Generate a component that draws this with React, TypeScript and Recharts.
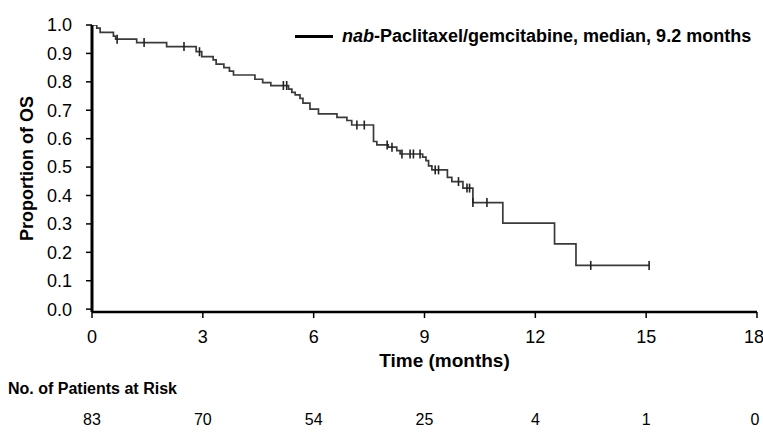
import React from "react";
import {
  ComposedChart,
  Line,
  Scatter,
  XAxis,
  YAxis,
  Legend,
} from "recharts";

const FONT = '"Liberation Sans", Arial, Helvetica, sans-serif';

// Kaplan-Meier steps (months, proportion surviving)
const eventTimes = [
  0, 0.13, 0.22, 0.58, 0.64, 1.21, 2.02, 2.82, 2.97, 3.28, 3.36, 3.57, 3.72, 3.83,
  4.41, 4.62, 4.84, 5.32, 5.41, 5.5, 5.63, 5.71, 5.9, 6.13, 6.63, 6.9, 7.03, 7.62,
  7.71, 8.02, 8.25, 8.34, 8.95, 9.04, 9.11, 9.2, 9.62, 9.74, 10.04, 10.31, 11.12,
  12.52, 13.1,
];
const survival = [
  1, 0.989, 0.974, 0.961, 0.95, 0.938, 0.924, 0.906, 0.889, 0.877, 0.862, 0.85, 0.838,
  0.824, 0.809, 0.797, 0.787, 0.774, 0.763, 0.754, 0.742, 0.725, 0.704, 0.687, 0.675,
  0.664, 0.648, 0.59, 0.578, 0.57, 0.558, 0.546, 0.535, 0.523, 0.504, 0.49, 0.464,
  0.449, 0.426, 0.375, 0.303, 0.23, 0.154,
];
// censored patients (tick marks on the curve)
const censorTimes = [
  0.68, 1.41, 2.49, 2.91, 5.18, 5.27, 7.17, 7.37, 7.99, 8.12, 8.39, 8.61, 8.7, 8.88,
  9.29, 9.38, 9.92, 10.15, 10.22, 10.31, 10.69, 13.5, 15.08,
];

const xTicks = [0, 3, 6, 9, 12, 15, 18];
const yTicks = [0, 0.1, 0.2, 0.3, 0.4, 0.5, 0.6, 0.7, 0.8, 0.9, 1.0];
const riskCounts = [83, 70, 54, 25, 4, 1, 0];

const SERIES_NAME = "nab-Paclitaxel/gemcitabine, median, 9.2 months";

// value of the step curve at time t (last event at or before t)
const survAt = (t: number) => {
  let s = survival[0];
  eventTimes.forEach((e, i) => {
    if (e <= t + 1e-9) s = survival[i];
  });
  return s;
};

const lastTime = censorTimes[censorTimes.length - 1];
const curve = [
  ...eventTimes.map((t, i) => ({ t, s: survival[i] })),
  { t: lastTime, s: survAt(lastTime) },
];
const censors = censorTimes.map((t) => ({ t, s: survAt(t) }));

const CensorMark = (props: any) => {
  const { cx, cy } = props;
  if (cx == null || cy == null) return null;
  return <line x1={cx} x2={cx} y1={cy - 4.5} y2={cy + 4.5} stroke="#222" strokeWidth={1.6} />;
};

const RiskTick = (props: any) => {
  const { x, y, payload } = props;
  const idx = xTicks.indexOf(payload.value);
  return (
    <text
      x={x}
      y={y + 47}
      textAnchor="middle"
      dominantBaseline="central"
      fontSize={16}
      fontFamily={FONT}
      fill="#000"
    >
      {riskCounts[idx]}
    </text>
  );
};

const LegendContent = (props: any) => {
  const entry = props.payload?.find((p: any) => p.value === SERIES_NAME);
  const name: string = entry?.value ?? SERIES_NAME;
  const cut = name.indexOf("-");
  return (
    <div
      style={{
        display: "flex",
        alignItems: "center",
        fontFamily: FONT,
        fontWeight: "bold",
        fontSize: 18,
        color: "#000",
        whiteSpace: "nowrap",
      }}
    >
      <span style={{ display: "inline-block", width: 38, height: 3, background: "#000", marginRight: 9 }} />
      <span>
        <i>{name.slice(0, cut)}</i>
        {name.slice(cut)}
      </span>
    </div>
  );
};

export default function App() {
  return (
    <div style={{ position: "absolute", left: 0, top: 0, width: 763, height: 434, background: "#fff" }}>
      <ComposedChart width={763} height={434} margin={{ top: 25, right: 6, bottom: 0, left: 0 }}>
        <YAxis
          type="number"
          domain={[-0.01, 1]}
          allowDataOverflow
          ticks={yTicks}
          tickFormatter={(v: number) => v.toFixed(1)}
          width={92}
          axisLine={{ stroke: "#000", strokeWidth: 3 }}
          tickLine={{ stroke: "#000", strokeWidth: 1.5 }}
          tickSize={6}
          tickMargin={14}
          tick={{ fontSize: 18, fill: "#000", fontFamily: FONT }}
          label={{
            content: ({ viewBox }: any) => (
              <text
                x={27}
                y={viewBox.y + viewBox.height / 2}
                transform={`rotate(-90, 27, ${viewBox.y + viewBox.height / 2})`}
                textAnchor="middle"
                dominantBaseline="central"
                fontSize={18}
                fontWeight="bold"
                fontFamily={FONT}
                fill="#000"
              >
                Proportion of OS
              </text>
            ),
          }}
        />
        <XAxis
          xAxisId="b"
          dataKey="t"
          type="number"
          domain={[0, 18]}
          allowDataOverflow
          ticks={xTicks}
          height={62}
          axisLine={false}
          tickLine={false}
          tickSize={0}
          tickMargin={0}
          tick={<RiskTick />}
          label={{
            content: ({ viewBox }: any) => (
              <text
                x={8}
                y={viewBox.y + 16}
                textAnchor="start"
                dominantBaseline="central"
                fontSize={16}
                fontWeight="bold"
                fontFamily={FONT}
                fill="#000"
              >
                No. of Patients at Risk
              </text>
            ),
          }}
        />
        <XAxis
          xAxisId="a"
          dataKey="t"
          type="number"
          domain={[0, 18]}
          allowDataOverflow
          ticks={xTicks}
          height={60}
          axisLine={{ stroke: "#000", strokeWidth: 2.5 }}
          tickLine={{ stroke: "#000", strokeWidth: 1.5 }}
          tickSize={6}
          tickMargin={12}
          tick={{ fontSize: 18, fill: "#000", fontFamily: FONT }}
          label={{
            content: ({ viewBox }: any) => (
              <text
                x={viewBox.x + viewBox.width / 2 + 20}
                y={viewBox.y + 48}
                textAnchor="middle"
                dominantBaseline="central"
                fontSize={19}
                fontWeight="bold"
                fontFamily={FONT}
                fill="#000"
              >
                Time (months)
              </text>
            ),
          }}
        />
        <Legend
          layout="vertical"
          align="center"
          verticalAlign="middle"
          wrapperStyle={{ top: 26, left: 295, width: "auto" }}
          content={<LegendContent />}
        />
        <Line
          xAxisId="a"
          data={curve}
          dataKey="s"
          name={SERIES_NAME}
          type="stepAfter"
          stroke="#3a3a3a"
          strokeWidth={1.7}
          dot={false}
          activeDot={false}
          isAnimationActive={false}
        />
        <Scatter
          xAxisId="a"
          data={censors}
          dataKey="s"
          name="censored"
          legendType="none"
          shape={<CensorMark />}
          isAnimationActive={false}
        />
      </ComposedChart>
    </div>
  );
}
